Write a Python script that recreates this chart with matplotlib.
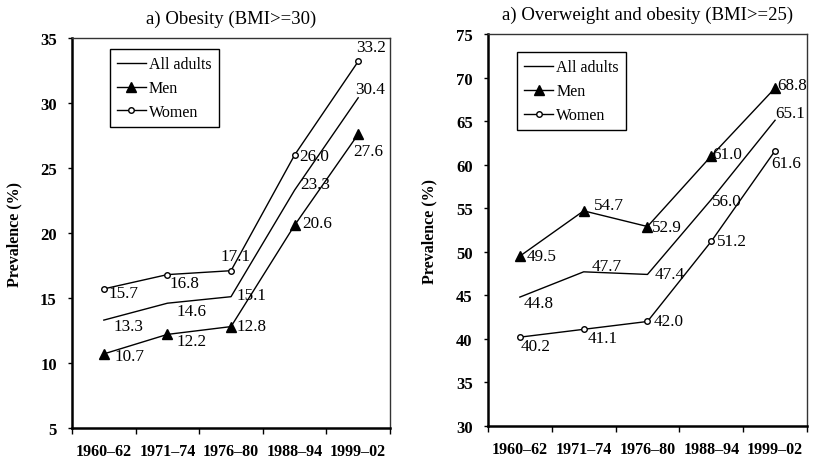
import matplotlib
matplotlib.use('Agg')
import matplotlib.pyplot as plt
import numpy as np

plt.rcParams['font.family'] = ['Liberation Serif', 'DejaVu Serif']

periods = ['1960\u201362', '1971\u201374', '1976\u201380', '1988\u201394', '1999\u201302']

# a) obesity, BMI >= 30
obese_all = [13.3, 14.6, 15.1, 23.3, 30.4]
obese_men = [10.7, 12.2, 12.8, 20.6, 27.6]
obese_women = [15.7, 16.8, 17.1, 26.0, 33.2]

# overweight and obesity, BMI >= 25
over_all = [44.8, 47.7, 47.4, 56.0, 65.1]
over_men = [49.5, 54.7, 52.9, 61.0, 68.8]
over_women = [40.2, 41.1, 42.0, 51.2, 61.6]

# label offsets in pixels (dx, dy with y pointing down)
obese_all_off = [(25, 6), (24, 8), (21, -2), (21, -6), (12, -9)]
obese_men_off = [(26, 2), (24, 7), (21, -1), (23, -2), (10, 17)]
obese_women_off = [(20, 4), (17, 8), (5, -15), (20, 1), (13, -14)]
over_all_off = [(19, 6), (23, -6), (22, 0), (16, 1), (15, -7)]
over_men_off = [(22, 0), (25, -6), (19, 0), (16, -2), (17, -3)]
over_women_off = [(16, 9), (19, 9), (21, 0), (21, 0), (11, 12)]


def draw_panel(ax, title, all_v, men_v, women_v, offs, ylim, legend_anchor):
    x = np.arange(len(periods)) + 0.5
    lw = 1.0
    ax.plot(x, all_v, color='black', lw=lw, label='All adults')
    ax.plot(x, men_v, color='black', lw=lw, marker='^', markersize=7.5,
            markerfacecolor='black', label='Men')
    ax.plot(x, women_v, color='black', lw=lw, marker='o', markersize=4,
            markerfacecolor='white', markeredgewidth=1, label='Women')

    for vals, off in zip([all_v, men_v, women_v], offs):
        for xi, v, (dx, dy) in zip(x, vals, off):
            ax.annotate(f'{v:.1f}', (xi, v), xytext=(dx * 0.72, -dy * 0.72),
                        textcoords='offset points', ha='center', va='center',
                        fontsize=12.3)

    ax.set_xlim(0, len(periods))
    ax.set_ylim(*ylim)
    ax.set_yticks(np.arange(ylim[0], ylim[1] + 1, 5))
    ax.set_xticks(np.arange(len(periods) + 1))
    ax.set_xticklabels([])
    ax.set_xticks(x, minor=True)
    ax.set_xticklabels(periods, minor=True, fontweight='bold', fontsize=11.5)
    ax.tick_params(axis='x', which='major', direction='out', length=4, width=1)
    ax.tick_params(axis='x', which='minor', length=0, pad=11)
    ax.tick_params(axis='y', direction='out', length=3, width=1, pad=8)
    for lab in ax.get_yticklabels():
        lab.set_fontweight('bold')
        lab.set_fontsize(12)

    for side in ['left', 'bottom']:
        ax.spines[side].set_linewidth(1.8)
        ax.spines[side].set_color('black')
    for side in ['top', 'right']:
        ax.spines[side].set_linewidth(1.0)
        ax.spines[side].set_color('#333333')

    ax.set_ylabel('Prevalence (%)', fontweight='bold', fontsize=11.5, labelpad=13)
    ax.set_title(title, fontsize=13.5, pad=11)

    leg = ax.legend(loc='upper left', bbox_to_anchor=legend_anchor,
                    borderaxespad=0, fancybox=False, edgecolor='black',
                    fontsize=11.5, handlelength=1.8, handletextpad=0.2,
                    labelspacing=0.5, borderpad=0.45, framealpha=1)
    leg.get_frame().set_linewidth(1.0)


fig = plt.figure(figsize=(8.13, 4.6), dpi=100)
ax1 = fig.add_axes([0.0886, 0.0674, 0.3911, 0.8478])
ax2 = fig.add_axes([0.6002, 0.0717, 0.3924, 0.8522])

draw_panel(ax1, 'a) Obesity (BMI>=30)', obese_all, obese_men, obese_women,
           [obese_all_off, obese_men_off, obese_women_off], (5, 35), (0.119, 0.972))
draw_panel(ax2, 'a) Overweight and obesity (BMI>=25)', over_all, over_men, over_women,
           [over_all_off, over_men_off, over_women_off], (30, 75), (0.091, 0.954))

fig.savefig('out.png', dpi=100)
